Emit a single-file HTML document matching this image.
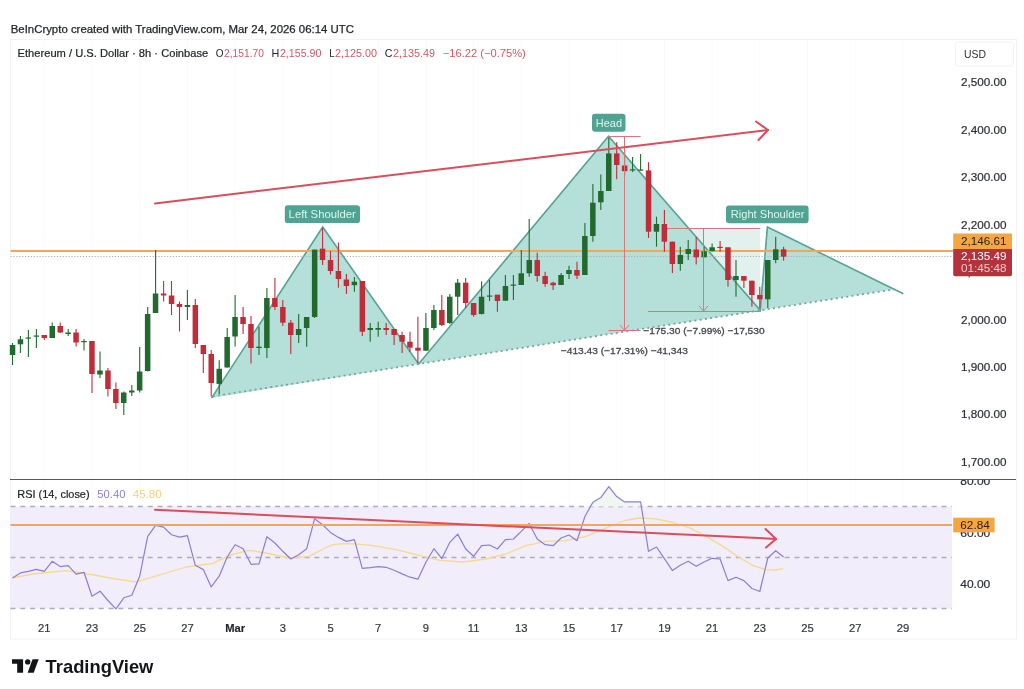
<!DOCTYPE html>
<html lang="en"><head><meta charset="utf-8"><title>Ethereum / U.S. Dollar chart</title>
<style>
html,body{margin:0;padding:0;background:#fff;}
body{width:1024px;height:689px;overflow:hidden;position:relative;font-family:"Liberation Sans",Arial,sans-serif;}
svg{position:absolute;left:0;top:0;display:block}
svg text{font-family:"Liberation Sans",Arial,sans-serif;}
</style></head><body>
<svg width="1024" height="689" viewBox="0 0 1024 689">
<rect x="0" y="0" width="1024" height="689" fill="#ffffff"/>

<rect x="10.5" y="39.5" width="1006" height="599.5" fill="#ffffff" stroke="#f2f2f3" stroke-width="1"/>
<g stroke="#fafafb" stroke-width="1">
<line x1="44.3" y1="40" x2="44.3" y2="612"/>
<line x1="92.0" y1="40" x2="92.0" y2="612"/>
<line x1="139.7" y1="40" x2="139.7" y2="612"/>
<line x1="187.4" y1="40" x2="187.4" y2="612"/>
<line x1="235.1" y1="40" x2="235.1" y2="612"/>
<line x1="282.8" y1="40" x2="282.8" y2="612"/>
<line x1="330.5" y1="40" x2="330.5" y2="612"/>
<line x1="378.2" y1="40" x2="378.2" y2="612"/>
<line x1="425.9" y1="40" x2="425.9" y2="612"/>
<line x1="473.6" y1="40" x2="473.6" y2="612"/>
<line x1="521.3" y1="40" x2="521.3" y2="612"/>
<line x1="569.0" y1="40" x2="569.0" y2="612"/>
<line x1="616.7" y1="40" x2="616.7" y2="612"/>
<line x1="664.4" y1="40" x2="664.4" y2="612"/>
<line x1="712.1" y1="40" x2="712.1" y2="612"/>
<line x1="759.8" y1="40" x2="759.8" y2="612"/>
<line x1="807.5" y1="40" x2="807.5" y2="612"/>
<line x1="855.2" y1="40" x2="855.2" y2="612"/>
<line x1="902.9" y1="40" x2="902.9" y2="612"/>
</g>
<rect x="10.5" y="506.5" width="941.5" height="102" fill="#f2edfa"/>
<rect x="667" y="228.3" width="93.2" height="82.9" fill="#e3f1ee"/>
<g fill="#b4e0d9" stroke="none">
<polygon points="211.5,398.1 322.7,227.0 418.6,364.0"/>
<polygon points="418.6,364.0 608.5,136.3 760.2,310.4"/>
<polygon points="760.2,310.4 767.4,227.1 894.4,289.3"/>
</g>
<polyline points="211.5,398.1 322.7,227.0 418.6,364.0 608.5,136.3 760.2,310.4 767.4,227.1 903.3,293.7" fill="none" stroke="#55a394" stroke-width="1.6" stroke-linejoin="miter"/>
<line x1="212.7" y1="396.3" x2="894.4" y2="289.3" stroke="#7ba39c" stroke-width="1.8" stroke-dasharray="2 3.3"/>
<line x1="10.5" y1="251" x2="953" y2="251" stroke="#f0a65c" stroke-width="2"/>
<line x1="10.5" y1="256.5" x2="953" y2="256.5" stroke="#adb0b7" stroke-width="1" stroke-dasharray="1.2 1.7"/>
<g>
<line x1="12.5" y1="343" x2="12.5" y2="365" stroke="#22692f" stroke-width="1.1"/><rect x="9.8" y="345" width="5.5" height="10.0" fill="#22692f"/>
<line x1="20.4" y1="336" x2="20.4" y2="353" stroke="#22692f" stroke-width="1.1"/><rect x="17.7" y="339.3" width="5.5" height="5.0" fill="#22692f"/>
<line x1="28.4" y1="330" x2="28.4" y2="357" stroke="#22692f" stroke-width="1.1"/><rect x="25.6" y="337.5" width="5.5" height="1.2" fill="#22692f"/>
<line x1="36.4" y1="329" x2="36.4" y2="348" stroke="#22692f" stroke-width="1.1"/><rect x="33.6" y="335.5" width="5.5" height="1.2" fill="#22692f"/>
<line x1="44.3" y1="335" x2="44.3" y2="340" stroke="#c02d3a" stroke-width="1.1"/><rect x="41.5" y="335" width="5.5" height="3.0" fill="#c02d3a"/>
<line x1="52.2" y1="322.5" x2="52.2" y2="338" stroke="#22692f" stroke-width="1.1"/><rect x="49.5" y="326" width="5.5" height="12.0" fill="#22692f"/>
<line x1="60.2" y1="322.5" x2="60.2" y2="333" stroke="#c02d3a" stroke-width="1.1"/><rect x="57.5" y="326" width="5.5" height="6.5" fill="#c02d3a"/>
<line x1="68.2" y1="329" x2="68.2" y2="336" stroke="#22692f" stroke-width="1.1"/><rect x="65.4" y="332.5" width="5.5" height="1.5" fill="#22692f"/>
<line x1="76.1" y1="329" x2="76.1" y2="346.5" stroke="#c02d3a" stroke-width="1.1"/><rect x="73.3" y="332.5" width="5.5" height="10.0" fill="#c02d3a"/>
<line x1="84.0" y1="339" x2="84.0" y2="350.5" stroke="#22692f" stroke-width="1.1"/><rect x="81.3" y="341" width="5.5" height="1.2" fill="#22692f"/>
<line x1="92.0" y1="341" x2="92.0" y2="393" stroke="#c02d3a" stroke-width="1.1"/><rect x="89.2" y="341" width="5.5" height="33.0" fill="#c02d3a"/>
<line x1="100.0" y1="351.5" x2="100.0" y2="378" stroke="#22692f" stroke-width="1.1"/><rect x="97.2" y="370.5" width="5.5" height="4.0" fill="#22692f"/>
<line x1="107.9" y1="368" x2="107.9" y2="396.5" stroke="#c02d3a" stroke-width="1.1"/><rect x="105.2" y="370.5" width="5.5" height="18.5" fill="#c02d3a"/>
<line x1="115.9" y1="382.5" x2="115.9" y2="409" stroke="#c02d3a" stroke-width="1.1"/><rect x="113.1" y="389" width="5.5" height="14.0" fill="#c02d3a"/>
<line x1="123.8" y1="391.5" x2="123.8" y2="415" stroke="#22692f" stroke-width="1.1"/><rect x="121.0" y="392.5" width="5.5" height="10.5" fill="#22692f"/>
<line x1="131.8" y1="385" x2="131.8" y2="396" stroke="#22692f" stroke-width="1.1"/><rect x="129.0" y="390.5" width="5.5" height="2.0" fill="#22692f"/>
<line x1="139.7" y1="347" x2="139.7" y2="392.5" stroke="#22692f" stroke-width="1.1"/><rect x="136.9" y="371.5" width="5.5" height="19.0" fill="#22692f"/>
<line x1="147.7" y1="307" x2="147.7" y2="371.5" stroke="#22692f" stroke-width="1.1"/><rect x="144.9" y="314" width="5.5" height="57.0" fill="#22692f"/>
<line x1="155.6" y1="250" x2="155.6" y2="313" stroke="#22692f" stroke-width="1.1"/><rect x="152.8" y="293.5" width="5.5" height="19.5" fill="#22692f"/>
<line x1="163.6" y1="281" x2="163.6" y2="301.5" stroke="#c02d3a" stroke-width="1.1"/><rect x="160.8" y="293.5" width="5.5" height="2.0" fill="#c02d3a"/>
<line x1="171.5" y1="281" x2="171.5" y2="315" stroke="#c02d3a" stroke-width="1.1"/><rect x="168.8" y="295.5" width="5.5" height="8.5" fill="#c02d3a"/>
<line x1="179.5" y1="301.5" x2="179.5" y2="331.5" stroke="#c02d3a" stroke-width="1.1"/><rect x="176.7" y="304" width="5.5" height="3.0" fill="#c02d3a"/>
<line x1="187.4" y1="290" x2="187.4" y2="320" stroke="#22692f" stroke-width="1.1"/><rect x="184.7" y="305" width="5.5" height="2.0" fill="#22692f"/>
<line x1="195.3" y1="299" x2="195.3" y2="348" stroke="#c02d3a" stroke-width="1.1"/><rect x="192.6" y="305" width="5.5" height="39.0" fill="#c02d3a"/>
<line x1="203.3" y1="345" x2="203.3" y2="373" stroke="#c02d3a" stroke-width="1.1"/><rect x="200.6" y="345" width="5.5" height="9.0" fill="#c02d3a"/>
<line x1="211.2" y1="350" x2="211.2" y2="396.5" stroke="#c02d3a" stroke-width="1.1"/><rect x="208.5" y="354" width="5.5" height="29.0" fill="#c02d3a"/>
<line x1="219.2" y1="360.3" x2="219.2" y2="394" stroke="#22692f" stroke-width="1.1"/><rect x="216.5" y="368.8" width="5.5" height="15.1" fill="#22692f"/>
<line x1="227.2" y1="328" x2="227.2" y2="367.5" stroke="#22692f" stroke-width="1.1"/><rect x="224.4" y="337" width="5.5" height="30.5" fill="#22692f"/>
<line x1="235.1" y1="295" x2="235.1" y2="346.5" stroke="#22692f" stroke-width="1.1"/><rect x="232.3" y="317" width="5.5" height="19.5" fill="#22692f"/>
<line x1="243.1" y1="307" x2="243.1" y2="334" stroke="#c02d3a" stroke-width="1.1"/><rect x="240.3" y="317" width="5.5" height="7.0" fill="#c02d3a"/>
<line x1="251.0" y1="316" x2="251.0" y2="363.5" stroke="#c02d3a" stroke-width="1.1"/><rect x="248.2" y="324" width="5.5" height="24.0" fill="#c02d3a"/>
<line x1="259.0" y1="326.7" x2="259.0" y2="355" stroke="#22692f" stroke-width="1.1"/><rect x="256.2" y="346.7" width="5.5" height="1.3" fill="#22692f"/>
<line x1="266.9" y1="288" x2="266.9" y2="358" stroke="#22692f" stroke-width="1.1"/><rect x="264.1" y="298" width="5.5" height="50.0" fill="#22692f"/>
<line x1="274.9" y1="278" x2="274.9" y2="310" stroke="#c02d3a" stroke-width="1.1"/><rect x="272.1" y="298" width="5.5" height="9.0" fill="#c02d3a"/>
<line x1="282.8" y1="300" x2="282.8" y2="326" stroke="#c02d3a" stroke-width="1.1"/><rect x="280.1" y="307" width="5.5" height="15.7" fill="#c02d3a"/>
<line x1="290.8" y1="320" x2="290.8" y2="354" stroke="#c02d3a" stroke-width="1.1"/><rect x="288.0" y="322.7" width="5.5" height="12.3" fill="#c02d3a"/>
<line x1="298.7" y1="314" x2="298.7" y2="343" stroke="#22692f" stroke-width="1.1"/><rect x="295.9" y="329" width="5.5" height="6.0" fill="#22692f"/>
<line x1="306.7" y1="317" x2="306.7" y2="346.7" stroke="#22692f" stroke-width="1.1"/><rect x="303.9" y="317" width="5.5" height="11.0" fill="#22692f"/>
<line x1="314.6" y1="249.6" x2="314.6" y2="318" stroke="#22692f" stroke-width="1.1"/><rect x="311.9" y="249.6" width="5.5" height="67.4" fill="#22692f"/>
<line x1="322.6" y1="228" x2="322.6" y2="265" stroke="#c02d3a" stroke-width="1.1"/><rect x="319.8" y="248.7" width="5.5" height="11.3" fill="#c02d3a"/>
<line x1="330.5" y1="251" x2="330.5" y2="274.5" stroke="#c02d3a" stroke-width="1.1"/><rect x="327.8" y="260" width="5.5" height="11.0" fill="#c02d3a"/>
<line x1="338.4" y1="242.6" x2="338.4" y2="287.7" stroke="#c02d3a" stroke-width="1.1"/><rect x="335.7" y="271" width="5.5" height="8.0" fill="#c02d3a"/>
<line x1="346.4" y1="274" x2="346.4" y2="294" stroke="#c02d3a" stroke-width="1.1"/><rect x="343.7" y="279.5" width="5.5" height="6.5" fill="#c02d3a"/>
<line x1="354.4" y1="277" x2="354.4" y2="291.7" stroke="#22692f" stroke-width="1.1"/><rect x="351.6" y="281.7" width="5.5" height="3.5" fill="#22692f"/>
<line x1="362.3" y1="281" x2="362.3" y2="336" stroke="#c02d3a" stroke-width="1.1"/><rect x="359.6" y="281" width="5.5" height="50.7" fill="#c02d3a"/>
<line x1="370.2" y1="323" x2="370.2" y2="341.7" stroke="#22692f" stroke-width="1.1"/><rect x="367.5" y="328" width="5.5" height="2.0" fill="#22692f"/>
<line x1="378.2" y1="321.7" x2="378.2" y2="336.7" stroke="#22692f" stroke-width="1.1"/><rect x="375.4" y="328" width="5.5" height="1.7" fill="#22692f"/>
<line x1="386.2" y1="323" x2="386.2" y2="335" stroke="#c02d3a" stroke-width="1.1"/><rect x="383.4" y="328" width="5.5" height="2.0" fill="#c02d3a"/>
<line x1="394.1" y1="329" x2="394.1" y2="345" stroke="#c02d3a" stroke-width="1.1"/><rect x="391.4" y="329" width="5.5" height="6.0" fill="#c02d3a"/>
<line x1="402.1" y1="331.7" x2="402.1" y2="353" stroke="#c02d3a" stroke-width="1.1"/><rect x="399.3" y="335" width="5.5" height="6.7" fill="#c02d3a"/>
<line x1="410.0" y1="331.7" x2="410.0" y2="351.7" stroke="#c02d3a" stroke-width="1.1"/><rect x="407.2" y="341.7" width="5.5" height="6.0" fill="#c02d3a"/>
<line x1="417.9" y1="316.7" x2="417.9" y2="363" stroke="#c02d3a" stroke-width="1.1"/><rect x="415.2" y="347.7" width="5.5" height="3.0" fill="#c02d3a"/>
<line x1="425.9" y1="313" x2="425.9" y2="350.7" stroke="#22692f" stroke-width="1.1"/><rect x="423.2" y="328" width="5.5" height="22.7" fill="#22692f"/>
<line x1="433.9" y1="305" x2="433.9" y2="330" stroke="#22692f" stroke-width="1.1"/><rect x="431.1" y="310" width="5.5" height="18.0" fill="#22692f"/>
<line x1="441.8" y1="295" x2="441.8" y2="326" stroke="#c02d3a" stroke-width="1.1"/><rect x="439.1" y="310" width="5.5" height="15.0" fill="#c02d3a"/>
<line x1="449.8" y1="294" x2="449.8" y2="324" stroke="#22692f" stroke-width="1.1"/><rect x="447.0" y="296.7" width="5.5" height="26.3" fill="#22692f"/>
<line x1="457.7" y1="279" x2="457.7" y2="315" stroke="#22692f" stroke-width="1.1"/><rect x="454.9" y="282.7" width="5.5" height="14.0" fill="#22692f"/>
<line x1="465.7" y1="278" x2="465.7" y2="308" stroke="#c02d3a" stroke-width="1.1"/><rect x="462.9" y="282.7" width="5.5" height="20.3" fill="#c02d3a"/>
<line x1="473.6" y1="303" x2="473.6" y2="316.7" stroke="#c02d3a" stroke-width="1.1"/><rect x="470.9" y="303" width="5.5" height="12.0" fill="#c02d3a"/>
<line x1="481.6" y1="281.5" x2="481.6" y2="314.5" stroke="#22692f" stroke-width="1.1"/><rect x="478.8" y="296.7" width="5.5" height="17.3" fill="#22692f"/>
<line x1="489.5" y1="279.5" x2="489.5" y2="301" stroke="#22692f" stroke-width="1.1"/><rect x="486.8" y="295.5" width="5.5" height="1.2" fill="#22692f"/>
<line x1="497.4" y1="294.7" x2="497.4" y2="311.7" stroke="#c02d3a" stroke-width="1.1"/><rect x="494.7" y="294.7" width="5.5" height="6.3" fill="#c02d3a"/>
<line x1="505.4" y1="275" x2="505.4" y2="300.7" stroke="#22692f" stroke-width="1.1"/><rect x="502.7" y="286" width="5.5" height="14.7" fill="#22692f"/>
<line x1="513.4" y1="275" x2="513.4" y2="300" stroke="#22692f" stroke-width="1.1"/><rect x="510.6" y="284.5" width="5.5" height="1.2" fill="#22692f"/>
<line x1="521.3" y1="250" x2="521.3" y2="285" stroke="#22692f" stroke-width="1.1"/><rect x="518.5" y="273.3" width="5.5" height="11.7" fill="#22692f"/>
<line x1="529.2" y1="219" x2="529.2" y2="276.7" stroke="#22692f" stroke-width="1.1"/><rect x="526.5" y="260" width="5.5" height="13.3" fill="#22692f"/>
<line x1="537.2" y1="252.7" x2="537.2" y2="281.7" stroke="#c02d3a" stroke-width="1.1"/><rect x="534.5" y="260" width="5.5" height="16.0" fill="#c02d3a"/>
<line x1="545.1" y1="271.7" x2="545.1" y2="286.7" stroke="#c02d3a" stroke-width="1.1"/><rect x="542.4" y="276" width="5.5" height="8.0" fill="#c02d3a"/>
<line x1="553.1" y1="281.7" x2="553.1" y2="290" stroke="#c02d3a" stroke-width="1.1"/><rect x="550.4" y="282.7" width="5.5" height="2.6" fill="#c02d3a"/>
<line x1="561.1" y1="273" x2="561.1" y2="285" stroke="#22692f" stroke-width="1.1"/><rect x="558.3" y="275" width="5.5" height="10.0" fill="#22692f"/>
<line x1="569.0" y1="265.7" x2="569.0" y2="279" stroke="#22692f" stroke-width="1.1"/><rect x="566.2" y="270" width="5.5" height="4.0" fill="#22692f"/>
<line x1="577.0" y1="261.7" x2="577.0" y2="279" stroke="#c02d3a" stroke-width="1.1"/><rect x="574.2" y="270" width="5.5" height="5.7" fill="#c02d3a"/>
<line x1="584.9" y1="223" x2="584.9" y2="275" stroke="#22692f" stroke-width="1.1"/><rect x="582.1" y="236" width="5.5" height="39.0" fill="#22692f"/>
<line x1="592.9" y1="184" x2="592.9" y2="241.7" stroke="#22692f" stroke-width="1.1"/><rect x="590.1" y="202.7" width="5.5" height="33.3" fill="#22692f"/>
<line x1="600.8" y1="174.5" x2="600.8" y2="210" stroke="#22692f" stroke-width="1.1"/><rect x="598.1" y="191" width="5.5" height="11.3" fill="#22692f"/>
<line x1="608.8" y1="137.6" x2="608.8" y2="191" stroke="#22692f" stroke-width="1.1"/><rect x="606.0" y="153.4" width="5.5" height="37.6" fill="#22692f"/>
<line x1="616.7" y1="142.3" x2="616.7" y2="179.2" stroke="#c02d3a" stroke-width="1.1"/><rect x="614.0" y="153.4" width="5.5" height="11.6" fill="#c02d3a"/>
<line x1="624.6" y1="150" x2="624.6" y2="176" stroke="#c02d3a" stroke-width="1.1"/><rect x="621.9" y="165.5" width="5.5" height="5.7" fill="#c02d3a"/>
<line x1="632.6" y1="157" x2="632.6" y2="172" stroke="#22692f" stroke-width="1.1"/><rect x="629.9" y="169.3" width="5.5" height="1.2" fill="#22692f"/>
<line x1="640.6" y1="154" x2="640.6" y2="170.5" stroke="#22692f" stroke-width="1.1"/><rect x="637.8" y="169.5" width="5.5" height="1.2" fill="#22692f"/>
<line x1="648.5" y1="162.2" x2="648.5" y2="238" stroke="#c02d3a" stroke-width="1.1"/><rect x="645.8" y="170.4" width="5.5" height="61.3" fill="#c02d3a"/>
<line x1="656.5" y1="216.7" x2="656.5" y2="246.7" stroke="#22692f" stroke-width="1.1"/><rect x="653.7" y="224" width="5.5" height="7.7" fill="#22692f"/>
<line x1="664.4" y1="210" x2="664.4" y2="251.7" stroke="#c02d3a" stroke-width="1.1"/><rect x="661.6" y="224" width="5.5" height="17.7" fill="#c02d3a"/>
<line x1="672.4" y1="241.7" x2="672.4" y2="273" stroke="#c02d3a" stroke-width="1.1"/><rect x="669.6" y="241.7" width="5.5" height="22.3" fill="#c02d3a"/>
<line x1="680.3" y1="246.7" x2="680.3" y2="270.7" stroke="#22692f" stroke-width="1.1"/><rect x="677.6" y="255" width="5.5" height="9.0" fill="#22692f"/>
<line x1="688.2" y1="240" x2="688.2" y2="260" stroke="#22692f" stroke-width="1.1"/><rect x="685.5" y="249" width="5.5" height="5.0" fill="#22692f"/>
<line x1="696.2" y1="237" x2="696.2" y2="264.5" stroke="#c02d3a" stroke-width="1.1"/><rect x="693.5" y="249.5" width="5.5" height="7.8" fill="#c02d3a"/>
<line x1="704.1" y1="246.7" x2="704.1" y2="257.3" stroke="#22692f" stroke-width="1.1"/><rect x="701.4" y="251.3" width="5.5" height="6.0" fill="#22692f"/>
<line x1="712.1" y1="243.5" x2="712.1" y2="251.5" stroke="#22692f" stroke-width="1.1"/><rect x="709.4" y="247.3" width="5.5" height="3.7" fill="#22692f"/>
<line x1="720.1" y1="241" x2="720.1" y2="251.7" stroke="#c02d3a" stroke-width="1.1"/><rect x="717.3" y="246.8" width="5.5" height="1.2" fill="#c02d3a"/>
<line x1="728.0" y1="247.3" x2="728.0" y2="286.7" stroke="#c02d3a" stroke-width="1.1"/><rect x="725.2" y="247.3" width="5.5" height="32.7" fill="#c02d3a"/>
<line x1="736.0" y1="260" x2="736.0" y2="296.7" stroke="#22692f" stroke-width="1.1"/><rect x="733.2" y="276" width="5.5" height="4.0" fill="#22692f"/>
<line x1="743.9" y1="276" x2="743.9" y2="288" stroke="#c02d3a" stroke-width="1.1"/><rect x="741.1" y="276" width="5.5" height="4.7" fill="#c02d3a"/>
<line x1="751.9" y1="280.7" x2="751.9" y2="306.7" stroke="#c02d3a" stroke-width="1.1"/><rect x="749.1" y="280.7" width="5.5" height="14.3" fill="#c02d3a"/>
<line x1="759.8" y1="286.7" x2="759.8" y2="308" stroke="#c02d3a" stroke-width="1.1"/><rect x="757.1" y="295" width="5.5" height="4.3" fill="#c02d3a"/>
<line x1="767.8" y1="260" x2="767.8" y2="308" stroke="#22692f" stroke-width="1.1"/><rect x="765.0" y="260" width="5.5" height="39.3" fill="#22692f"/>
<line x1="775.7" y1="236.7" x2="775.7" y2="263.3" stroke="#22692f" stroke-width="1.1"/><rect x="773.0" y="249.3" width="5.5" height="10.7" fill="#22692f"/>
<line x1="783.6" y1="246.7" x2="783.6" y2="260.7" stroke="#c02d3a" stroke-width="1.1"/><rect x="780.9" y="249.3" width="5.5" height="7.4" fill="#c02d3a"/>
</g>
<g stroke="#d6767d" stroke-width="1" fill="none">
<line x1="608.4" y1="136.5" x2="640.7" y2="136.5"/>
<line x1="624.5" y1="136.5" x2="624.5" y2="330.5"/>
<line x1="608.4" y1="330.5" x2="640.7" y2="330.5"/>
<polyline points="620,325 624.5,330.5 629,325"/>
<line x1="667" y1="228.5" x2="760.2" y2="228.5"/>
<line x1="703.5" y1="228.5" x2="703.5" y2="311.5"/>
<line x1="648" y1="311.5" x2="760.2" y2="311.5"/>
<polyline points="699,305.8 703.5,311.3 708,305.8"/>
</g>
<g stroke="#dc4c5c" stroke-width="2" fill="none" stroke-linecap="round" stroke-linejoin="round">
<line x1="155" y1="203.4" x2="768" y2="130"/>
<polyline points="756,121.5 768,130 758.5,140"/>
</g>
<rect x="284.8" y="205.3" width="75.2" height="17.8" rx="3.2" fill="#50a393"/>
<text x="288.6" y="218.4" font-size="10.9" fill="#dcf6ef" textLength="67.3" lengthAdjust="spacingAndGlyphs">Left Shoulder</text>
<rect x="592" y="113.7" width="33.5" height="18.0" rx="3.2" fill="#50a393"/>
<text x="595.8" y="126.5" font-size="10.9" fill="#dcf6ef" textLength="26.2" lengthAdjust="spacingAndGlyphs">Head</text>
<rect x="726" y="205.4" width="82.6" height="17.8" rx="3.2" fill="#50a393"/>
<text x="730.7" y="218.4" font-size="10.9" fill="#dcf6ef" textLength="73.7" lengthAdjust="spacingAndGlyphs">Right Shoulder</text>
<g font-size="9.4" fill="#44474e" stroke="#44474e" stroke-width="0.3">
<text x="560.8" y="354.2" textLength="127" lengthAdjust="spacingAndGlyphs">−413.43 (−17.31%) −41,343</text>
<text x="643.3" y="333.5" textLength="121.3" lengthAdjust="spacingAndGlyphs">−175.30 (−7.99%) −17,530</text>
</g>
<line x1="10" y1="479.5" x2="1016" y2="479.5" stroke="#55585f" stroke-width="1"/>
<g stroke="#adaebd" stroke-width="1.3" stroke-dasharray="5 4.8">
<line x1="10.5" y1="506.5" x2="952" y2="506.5"/>
<line x1="10.5" y1="557.5" x2="952" y2="557.5"/>
<line x1="10.5" y1="608.5" x2="952" y2="608.5"/>
</g>
<polygon points="586.9,506.5 592.9,502.2 600.8,497.6 608.8,486.6 616.7,496.6 624.6,501.9 632.6,501.9 640.6,501.9 640.6,506.5" fill="#f0f7f1"/>
<polyline points="12.2,577.9 33.0,574.0 66.0,570.6 86.0,573.6 116.0,579.0 136.0,581.9 156.0,576.0 186.0,567.0 212.0,563.6 232.0,554.7 249.0,550.3 266.0,553.0 289.0,558.0 309.0,556.3 325.0,548.0 333.0,544.7 340.0,543.8 353.0,543.7 373.0,545.7 396.0,549.7 420.0,555.7 440.0,560.3 463.0,562.0 486.0,559.0 506.0,554.0 526.0,545.7 546.0,541.4 566.0,540.7 586.0,536.4 606.0,528.0 625.0,520.5 639.0,518.0 656.0,518.8 673.0,522.5 690.0,528.0 706.0,536.4 723.0,546.4 740.0,558.0 753.0,565.6 766.0,569.6 776.0,570.0 783.0,568.6" fill="none" stroke="#f5d98e" stroke-width="1.3" stroke-linejoin="round"/>
<polyline points="12.5,577.9 20.4,572.9 28.4,571.3 36.4,569.3 44.3,571.3 52.2,561.3 60.2,566.6 68.2,565.6 76.1,574.2 84.0,572.3 92.0,596.2 100.0,591.2 107.9,600.5 115.9,608.8 123.8,597.8 131.8,595.2 139.7,576.2 147.7,536.4 155.6,525.4 163.6,527.1 171.5,534.7 179.5,537.1 187.4,535.7 195.3,565.3 203.3,569.6 211.2,586.9 219.2,576.2 227.2,557.0 235.1,544.7 243.1,548.7 251.0,564.3 259.0,564.0 266.9,536.7 274.9,543.0 282.8,551.3 290.8,559.0 298.7,554.7 306.7,548.7 314.6,518.8 322.6,524.8 330.5,532.4 338.4,537.4 346.4,541.4 354.4,539.7 362.3,568.3 370.2,567.6 378.2,566.6 386.2,567.3 394.1,570.3 402.1,573.9 410.0,577.2 417.9,579.2 425.9,562.3 433.9,548.7 441.8,558.6 449.8,542.4 457.7,534.1 465.7,549.0 473.6,556.3 481.6,545.7 489.5,545.0 497.4,549.0 505.4,539.7 513.4,539.0 521.3,531.4 529.2,523.5 537.2,539.0 545.1,544.7 553.1,545.7 561.1,538.0 569.0,535.0 577.0,540.7 584.9,516.5 592.9,502.2 600.8,497.6 608.8,486.6 616.7,496.6 624.6,501.9 632.6,501.9 640.6,501.9 648.5,551.3 656.5,547.0 664.4,558.6 672.4,570.6 680.3,565.3 688.2,561.3 696.2,566.3 704.1,562.0 712.1,558.3 720.1,559.0 728.0,580.6 736.0,577.2 743.9,580.6 751.9,588.5 759.8,591.5 767.8,558.0 775.7,550.7 783.6,557.0" fill="none" stroke="#8d7fd0" stroke-width="1.2" stroke-linejoin="round"/>
<line x1="10.5" y1="525" x2="952" y2="525" stroke="#f0a65c" stroke-width="2"/>
<g stroke="#dc4c5c" stroke-width="2" fill="none" stroke-linecap="round" stroke-linejoin="round">
<line x1="155" y1="509.8" x2="776" y2="538.9"/>
<polyline points="765.5,529 776,538.9 766,547.6"/>
</g>
<g font-size="10.8" fill="#2b2e36" stroke="#2b2e36" stroke-width="0.2" text-anchor="start">
<text x="961" y="86.4" textLength="45.5" lengthAdjust="spacingAndGlyphs">2,500.00</text>
<text x="961" y="133.8" textLength="45.5" lengthAdjust="spacingAndGlyphs">2,400.00</text>
<text x="961" y="181.2" textLength="45.5" lengthAdjust="spacingAndGlyphs">2,300.00</text>
<text x="961" y="228.7" textLength="45.5" lengthAdjust="spacingAndGlyphs">2,200.00</text>
<text x="961" y="276.1" textLength="45.5" lengthAdjust="spacingAndGlyphs">2,100.00</text>
<text x="961" y="323.5" textLength="45.5" lengthAdjust="spacingAndGlyphs">2,000.00</text>
<text x="961" y="370.9" textLength="45.5" lengthAdjust="spacingAndGlyphs">1,900.00</text>
<text x="961" y="418.3" textLength="45.5" lengthAdjust="spacingAndGlyphs">1,800.00</text>
<text x="961" y="465.8" textLength="45.5" lengthAdjust="spacingAndGlyphs">1,700.00</text>
</g>
<clipPath id="c80"><rect x="950" y="479.9" width="70" height="20"/></clipPath>
<g font-size="10.8" fill="#2b2e36" stroke="#2b2e36" stroke-width="0.2">
<text x="960.3" y="485.4" clip-path="url(#c80)" textLength="30" lengthAdjust="spacingAndGlyphs">80.00</text>
<text x="960.3" y="536.6" textLength="30" lengthAdjust="spacingAndGlyphs">60.00</text>
<text x="960.3" y="587.5" textLength="30" lengthAdjust="spacingAndGlyphs">40.00</text>
</g>
<rect x="953.2" y="233.5" width="58.8" height="15.6" fill="#f4a640"/>
<text x="961" y="244.5" font-size="10.8" fill="#2a2114" textLength="45.5" lengthAdjust="spacingAndGlyphs">2,146.61</text>
<path d="M953.2 248.9 H1012 V274.3 Q1012 276.3 1010 276.3 H955.2 Q953.2 276.3 953.2 274.3 Z" fill="#b2333c"/>
<text x="961" y="259.6" font-size="10.8" fill="#ffffff" textLength="45.5" lengthAdjust="spacingAndGlyphs">2,135.49</text>
<text x="961" y="271.7" font-size="10.8" fill="#f3c9cd" textLength="45.5" lengthAdjust="spacingAndGlyphs">01:45:48</text>
<rect x="953.2" y="517.7" width="41.4" height="14.6" fill="#f4a640"/>
<text x="960.3" y="528.8" font-size="10.8" fill="#2a2114" textLength="29.5" lengthAdjust="spacingAndGlyphs">62.84</text>
<rect x="955.5" y="42" width="58" height="24" rx="2" fill="#ffffff" stroke="#f3f3f3"/>
<text x="964" y="58" font-size="10.4" fill="#2b2e36" textLength="22" lengthAdjust="spacingAndGlyphs">USD</text>
<g font-size="11.2" fill="#34373e" stroke="#34373e" stroke-width="0.2" text-anchor="middle">
<text x="44.3" y="632">21</text>
<text x="92.0" y="632">23</text>
<text x="139.7" y="632">25</text>
<text x="187.4" y="632">27</text>
<text x="235.1" y="632" font-weight="bold" fill="#23262d">Mar</text>
<text x="282.8" y="632">3</text>
<text x="330.5" y="632">5</text>
<text x="378.2" y="632">7</text>
<text x="425.9" y="632">9</text>
<text x="473.6" y="632">11</text>
<text x="521.3" y="632">13</text>
<text x="569.0" y="632">15</text>
<text x="616.7" y="632">17</text>
<text x="664.4" y="632">19</text>
<text x="712.1" y="632">21</text>
<text x="759.8" y="632">23</text>
<text x="807.5" y="632">25</text>
<text x="855.2" y="632">27</text>
<text x="902.9" y="632">29</text>
</g>
<text x="10.7" y="32.6" font-size="10.7" fill="#1f2228" stroke="#1f2228" stroke-width="0.25" textLength="343.3" lengthAdjust="spacingAndGlyphs">BeInCrypto created with TradingView.com, Mar 24, 2026 06:14 UTC</text>
<text x="17.6" y="56.6" font-size="10.3" fill="#22252c" textLength="190.6" lengthAdjust="spacingAndGlyphs" stroke="#22252c" stroke-width="0.2">Ethereum / U.S. Dollar · 8h · Coinbase</text>
<text x="215.8" y="56.6" font-size="10.3" fill="#22252c" textLength="7.8" lengthAdjust="spacingAndGlyphs">O</text>
<text x="224.1" y="56.6" font-size="10.3" fill="#d05a66" textLength="39.8" lengthAdjust="spacingAndGlyphs">2,151.70</text>
<text x="271.6" y="56.6" font-size="10.3" fill="#22252c" textLength="7.8" lengthAdjust="spacingAndGlyphs">H</text>
<text x="279.9" y="56.6" font-size="10.3" fill="#d05a66" textLength="41.5" lengthAdjust="spacingAndGlyphs">2,155.90</text>
<text x="329.2" y="56.6" font-size="10.3" fill="#22252c" textLength="5.4" lengthAdjust="spacingAndGlyphs">L</text>
<text x="335.0" y="56.6" font-size="10.3" fill="#d05a66" textLength="42.0" lengthAdjust="spacingAndGlyphs">2,125.00</text>
<text x="384.7" y="56.6" font-size="10.3" fill="#22252c" textLength="7.7" lengthAdjust="spacingAndGlyphs">C</text>
<text x="393.0" y="56.6" font-size="10.3" fill="#d05a66" textLength="42.1" lengthAdjust="spacingAndGlyphs">2,135.49</text>
<text x="442.8" y="56.6" font-size="10.3" fill="#d05a66" textLength="83.0" lengthAdjust="spacingAndGlyphs">−16.22 (−0.75%)</text>
<text x="17.3" y="498" font-size="10.3" fill="#22252c" textLength="72.3" lengthAdjust="spacingAndGlyphs" stroke="#22252c" stroke-width="0.2">RSI (14, close)</text>
<text x="97.3" y="498" font-size="10.3" fill="#8d7fd0" textLength="28.2" lengthAdjust="spacingAndGlyphs">50.40</text>
<text x="132.8" y="498" font-size="10.3" fill="#f3d278" textLength="28.9" lengthAdjust="spacingAndGlyphs">45.80</text>
<g fill="#131417">
<path d="M12 659.3 H23.1 V672.7 H17.2 V663.8 H12 Z"/>
<circle cx="27.7" cy="661.9" r="2.7"/>
<path d="M32.6 659.3 H38.7 L33.7 672.7 H27.6 Z"/>
</g>
<text x="45.6" y="672.7" font-size="18.6" font-weight="bold" fill="#131417" textLength="107.8" lengthAdjust="spacingAndGlyphs">TradingView</text>
</svg>
</body></html>
